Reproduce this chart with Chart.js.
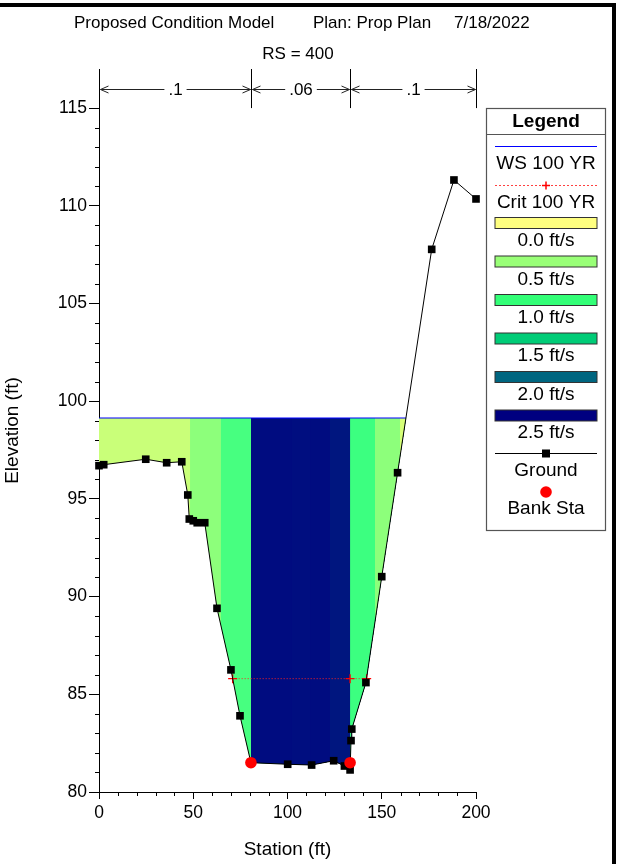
<!DOCTYPE html>
<html>
<head>
<meta charset="utf-8">
<script src="https://cdn.jsdelivr.net/npm/chart.js@4.4.0/dist/chart.umd.min.js"></script>
<style>
  html, body { margin: 0; padding: 0; background: #fff; overflow: hidden; }
  #wrap { position: relative; width: 621px; height: 864px; }
  #frame {
    position: absolute; left: -10px; top: 3px; width: 626px; height: 900px;
    border: 4px solid #000; box-sizing: border-box; pointer-events: none;
  }
  canvas { display: block; }
</style>
</head>
<body>
<div id="wrap">
  <canvas id="xs" width="621" height="864"></canvas>
  <div id="frame"></div>
</div>
<script>
// cross section RS = 400
const groundSta = [0, 2.5, 24.8, 35.9, 43.9, 47.1, 47.9, 50.0, 52.1, 56.1, 62.6, 70.0, 74.8, 80.6,
  100.1, 112.8, 124.5, 130.2, 133.2, 133.7, 134.1, 141.6, 150.0, 158.4, 176.5, 188.3, 200];
const groundElev = [96.7, 96.75, 97.03, 96.85, 96.9, 95.2, 93.97, 93.88, 93.78, 93.78, 89.4, 86.25, 83.9, 81.5,
  81.42, 81.38, 81.6, 81.33, 81.13, 82.63, 83.22, 85.6, 91.02, 96.34, 107.77, 111.32, 110.35];

const bankSta = [80.6, 133.2];
const bankElev = [81.5, 81.5];

const wsElev = 99.14;
// velocity strip edges along the water surface (last one = right water edge)
const wsSta = [0, 48.3, 64.6, 80.6, 102.2, 112.0, 122.5, 133.2, 146.4, 159.7, 162.9];
const stripColors = ['#c9ff79', '#8dff7b', '#47ff80', '#000c80', '#000e80', '#000c80', '#00167f',
  '#3cff80', '#8dff7b', '#d6ff78'];

const critElev = 85.8;
const critSta = [70.9, 133.2, 142.0];

const nSta = [0, 80.6, 133.2, 200];
const nValues = ['.1', '.06', '.1'];

const xTicks = [0, 50, 100, 150, 200];
const yTicks = [80, 85, 90, 95, 100, 105, 110, 115];

const velLabels = ['0.0 ft/s', '0.5 ft/s', '1.0 ft/s', '1.5 ft/s', '2.0 ft/s', '2.5 ft/s'];
const velColors = ['#ffff80', '#99ff77', '#33ff77', '#00cc77', '#006680', '#000080'];

const FONT = '"Liberation Sans", Arial, sans-serif';
const GROUND_INDEX = 1;

const pts = (xs, ys) => xs.map((x, i) => ({ x, y: Array.isArray(ys) ? ys[i] : ys }));

const minorTicks = {
  id: 'minorTicks',
  afterDraw(chart) {
    const { ctx, chartArea: a, scales: { x, y } } = chart;
    ctx.save();
    ctx.strokeStyle = '#000';
    ctx.lineWidth = 1;
    ctx.beginPath();
    for (let v = 10; v < 200; v += 10) {
      if (v % 50 === 0) continue;
      const px = Math.round(x.getPixelForValue(v)) + 0.5;
      ctx.moveTo(px, a.bottom);
      ctx.lineTo(px, a.bottom + 4);
    }
    for (let v = 81; v < 115; v++) {
      if (v % 5 === 0) continue;
      const py = Math.round(y.getPixelForValue(v)) + 0.5;
      ctx.moveTo(a.left, py);
      ctx.lineTo(a.left - 4, py);
    }
    ctx.stroke();
    ctx.restore();
  }
};

const headings = {
  id: 'headings',
  afterDraw(chart) {
    const { ctx } = chart;
    ctx.save();
    ctx.fillStyle = '#000';
    ctx.font = '17px ' + FONT;
    ctx.textBaseline = 'alphabetic';
    ctx.textAlign = 'left';
    ctx.fillText('Proposed Condition Model', 74, 28);
    ctx.fillText('Plan: Prop Plan', 313, 28);
    ctx.fillText('7/18/2022', 454, 28);
    ctx.textAlign = 'center';
    ctx.fillText('RS = 400', 298, 59);
    ctx.restore();
  }
};

const manningN = {
  id: 'manningN',
  afterDraw(chart) {
    const { ctx, scales: { x, y } } = chart;
    const top = y.getPixelForValue(117);
    const bot = y.getPixelForValue(115);
    const ay = Math.round(y.getPixelForValue(116)) + 0.5;
    ctx.save();
    ctx.strokeStyle = '#000';
    ctx.fillStyle = '#000';
    ctx.lineWidth = 1;
    ctx.font = '17px ' + FONT;
    ctx.textAlign = 'center';
    ctx.textBaseline = 'middle';
    const xs = nSta.map(s => Math.round(x.getPixelForValue(s)) + 0.5);
    ctx.beginPath();
    xs.forEach(px => { ctx.moveTo(px, top); ctx.lineTo(px, bot); });
    ctx.stroke();
    for (let i = 0; i < nValues.length; i++) {
      const x0 = xs[i], x1 = xs[i + 1], mid = (x0 + x1) / 2;
      const hw = ctx.measureText(nValues[i]).width / 2 + 4;
      ctx.strokeStyle = '#222';
      ctx.beginPath();
      ctx.moveTo(x0 + 1, ay); ctx.lineTo(mid - hw, ay);
      ctx.moveTo(mid + hw, ay); ctx.lineTo(x1 - 1, ay);
      // open arrow heads
      ctx.moveTo(x0 + 9, ay - 3.5); ctx.lineTo(x0 + 1, ay); ctx.lineTo(x0 + 9, ay + 3.5);
      ctx.moveTo(x1 - 9, ay - 3.5); ctx.lineTo(x1 - 1, ay); ctx.lineTo(x1 - 9, ay + 3.5);
      ctx.stroke();
      ctx.fillText(nValues[i], mid, ay + 1);
    }
    ctx.restore();
  }
};

const legendBox = {
  id: 'legendBox',
  afterDraw(chart) {
    const { ctx } = chart;
    const L = 486.5, R = 605.5, T = 108.5, B = 530.5, cx = 546;
    const sx0 = 495, sx1 = 597;
    ctx.save();
    ctx.fillStyle = '#fff';
    ctx.fillRect(L, T, R - L, B - T);
    ctx.strokeStyle = '#555';
    ctx.lineWidth = 1.2;
    ctx.strokeRect(L, T, R - L, B - T);
    ctx.beginPath(); ctx.moveTo(L, 134.5); ctx.lineTo(R, 134.5); ctx.stroke();

    ctx.fillStyle = '#000';
    ctx.textAlign = 'center';
    ctx.textBaseline = 'middle';
    ctx.font = 'bold 19px ' + FONT;
    ctx.fillText('Legend', cx, 122);
    ctx.font = '19px ' + FONT;

    // WS
    ctx.strokeStyle = '#0000ff'; ctx.lineWidth = 1;
    ctx.beginPath(); ctx.moveTo(sx0, 146.5); ctx.lineTo(sx1, 146.5); ctx.stroke();
    ctx.fillText('WS 100 YR', cx, 164);
    // Crit
    ctx.strokeStyle = '#ff4040'; ctx.setLineDash([2, 2]);
    ctx.beginPath(); ctx.moveTo(sx0, 185.5); ctx.lineTo(sx1, 185.5); ctx.stroke();
    ctx.setLineDash([]); ctx.lineWidth = 1.5; ctx.strokeStyle = '#ff0000';
    ctx.beginPath(); ctx.moveTo(cx - 4, 185.5); ctx.lineTo(cx + 4, 185.5);
    ctx.moveTo(cx, 181.5); ctx.lineTo(cx, 189.5); ctx.stroke();
    ctx.fillText('Crit 100 YR', cx, 203);
    // velocity swatches
    ctx.lineWidth = 1;
    velLabels.forEach((lab, k) => {
      const ty = 217.5 + k * 38.5;
      ctx.fillStyle = velColors[k];
      ctx.fillRect(sx0, ty, sx1 - sx0, 11);
      ctx.strokeStyle = '#333';
      ctx.strokeRect(sx0, ty, sx1 - sx0, 11);
      ctx.fillStyle = '#000';
      ctx.fillText(lab, cx, 241 + k * 38.4);
    });
    // Ground
    ctx.strokeStyle = '#000';
    ctx.beginPath(); ctx.moveTo(sx0, 453.5); ctx.lineTo(sx1, 453.5); ctx.stroke();
    ctx.fillRect(cx - 4, 449.5, 8, 8);
    ctx.fillText('Ground', cx, 471);
    // Bank Sta
    ctx.fillStyle = '#ff0000';
    ctx.beginPath(); ctx.arc(cx, 492, 5.8, 0, Math.PI * 2); ctx.fill();
    ctx.fillStyle = '#000';
    ctx.fillText('Bank Sta', cx, 509);
    ctx.restore();
  }
};

// each velocity strip is filled from its left edge to the right water edge;
// later strips paint over earlier ones so no seams show between them
const lastSta = wsSta[wsSta.length - 1];
const stripSets = stripColors.map((col, k) => ({
  label: 'vel' + k,
  data: pts([wsSta[k], lastSta], wsElev),
  borderWidth: 0,
  borderColor: 'rgba(0,0,0,0)',
  pointRadius: 0,
  backgroundColor: col,
  fill: GROUND_INDEX,
  order: 30 - k,
}));

new Chart(document.getElementById('xs'), {
  type: 'line',
  data: {
    datasets: [
      {
        label: 'Bank Sta',
        data: pts(bankSta, bankElev),
        showLine: false,
        pointStyle: 'circle',
        pointRadius: 5.8,
        pointBackgroundColor: '#ff0000',
        pointBorderWidth: 0,
        clip: false,
        order: 0,
      },
      {
        label: 'Ground',
        data: pts(groundSta, groundElev),
        borderColor: '#000',
        borderWidth: 1,
        pointStyle: 'rect',
        pointRadius: 5.4,
        pointBackgroundColor: '#000',
        pointBorderWidth: 0,
        clip: false,
        order: 1,
      },
      {
        label: 'Crit 100 YR',
        data: pts(critSta, critElev),
        borderColor: '#ff2020',
        borderWidth: 1,
        borderDash: [1, 2],
        pointStyle: 'cross',
        pointRadius: 4.5,
        pointBorderColor: '#ff0000',
        pointBorderWidth: 1.3,
        order: 2,
      },
      {
        label: 'WS 100 YR',
        data: pts([wsSta[0], lastSta], wsElev),
        borderColor: '#0000ff',
        borderWidth: 1.2,
        pointRadius: 0,
        fill: false,
        order: 3,
      },
      ...stripSets,
    ],
  },
  options: {
    responsive: false,
    animation: false,
    events: [],
    layout: { padding: { top: 69, right: 145, left: 0, bottom: 0 } },
    plugins: {
      legend: { display: false },
      tooltip: { enabled: false },
      title: { display: false },
    },
    scales: {
      x: {
        type: 'linear',
        min: 0,
        max: 200,
        afterFit: s => { s.height = 72; },
        afterBuildTicks: s => { s.ticks = xTicks.map(v => ({ value: v })); },
        border: { display: true, color: '#000', width: 1 },
        grid: { drawOnChartArea: false, tickLength: 7, color: '#000', tickColor: '#000' },
        ticks: { color: '#000', font: { family: FONT, size: 17.5 }, padding: 4, maxRotation: 0 },
        title: {
          display: true, text: 'Station (ft)', color: '#000',
          font: { family: FONT, size: 19 }, padding: { top: 0, bottom: 3 },
        },
      },
      y: {
        type: 'linear',
        min: 80,
        max: 117,
        afterFit: s => { s.width = 99; },
        afterBuildTicks: s => { s.ticks = yTicks.map(v => ({ value: v })); },
        border: { display: true, color: '#000', width: 1 },
        grid: { drawOnChartArea: false, tickLength: 10, color: '#000', tickColor: '#000' },
        ticks: { color: '#000', font: { family: FONT, size: 17.5 }, padding: 2 },
        title: {
          display: true, text: 'Elevation (ft)', color: '#000',
          font: { family: FONT, size: 19 }, padding: { top: 1, bottom: 0 },
        },
      },
    },
  },
  plugins: [minorTicks, headings, manningN, legendBox],
});
</script>
</body>
</html>
